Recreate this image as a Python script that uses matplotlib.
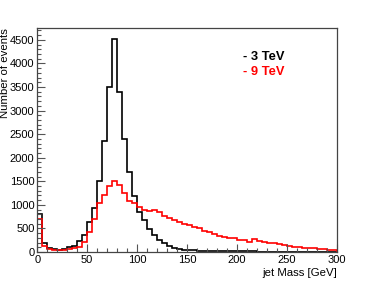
import matplotlib
matplotlib.use("Agg")
import matplotlib.pyplot as plt
from matplotlib.ticker import MultipleLocator
import numpy as np

plt.rcParams['font.family'] = ['Liberation Sans', 'DejaVu Sans']

# jet mass bins, 5 GeV wide from 0 to 300
bin_edges = np.arange(0, 305, 5)

# 3 TeV sample
counts_3tev = [
    810, 190, 90, 60, 50, 60, 100, 130, 245, 365,
    635, 930, 1515, 2350, 3500, 4525, 3400, 2390, 1700, 1180,
    850, 670, 495, 360, 255, 185, 132, 95, 68, 52,
    42, 36, 31, 28, 25, 22, 20, 18, 16, 15,
    14, 13, 12, 12, 11, 10, 10, 9, 9, 8,
    8, 7, 7, 6, 6, 6, 5, 5, 5, 5,
]

# 9 TeV sample
counts_9tev = [
    695, 130, 75, 48, 40, 44, 55, 80, 115, 205,
    430, 705, 1050, 1220, 1410, 1515, 1420, 1250, 1075, 1035,
    955, 900, 870, 890, 850, 770, 720, 685, 640, 605,
    565, 540, 500, 450, 420, 375, 345, 320, 300, 295,
    265, 258, 220, 270, 235, 220, 190, 182, 162, 150,
    122, 115, 102, 95, 90, 78, 72, 65, 52, 42,
]

labels = ["- 3 TeV", "- 9 TeV"]
colors = ["black", "#ff0000"]

fig = plt.figure(figsize=(3.74, 2.81), dpi=100)
ax = fig.add_axes([0.0997, 0.103, 0.8006, 0.797])

ax.stairs(counts_3tev, bin_edges, color=colors[0], linewidth=1.2)
ax.stairs(counts_9tev, bin_edges, color=colors[1], linewidth=1.2)

ax.set_xlim(0, 300)
ax.set_ylim(0, 4750)

ax.xaxis.set_major_locator(MultipleLocator(50))
ax.xaxis.set_minor_locator(MultipleLocator(10))
ax.yaxis.set_major_locator(MultipleLocator(500))
ax.yaxis.set_minor_locator(MultipleLocator(100))
ax.tick_params(which='both', direction='in', top=False, right=False,
               color='#555555', labelsize=8, pad=2)
ax.tick_params(which='major', length=6, width=0.8)
ax.tick_params(which='minor', length=3, width=0.8)
for sp in ax.spines.values():
    sp.set_color('#444444')
    sp.set_linewidth(0.9)

ax.set_ylabel("Number of events", fontsize=8.2, loc='top', labelpad=0)
ax.set_xlabel("jet Mass [GeV]", fontsize=8.2, loc='right', labelpad=2)

ax.text(0.687, 0.873, labels[0], transform=ax.transAxes, color=colors[0],
        fontsize=9.3, fontweight='bold', va='center', ha='left')
ax.text(0.687, 0.806, labels[1], transform=ax.transAxes, color=colors[1],
        fontsize=9.3, fontweight='bold', va='center', ha='left')

fig.savefig("out.png", dpi=100)
